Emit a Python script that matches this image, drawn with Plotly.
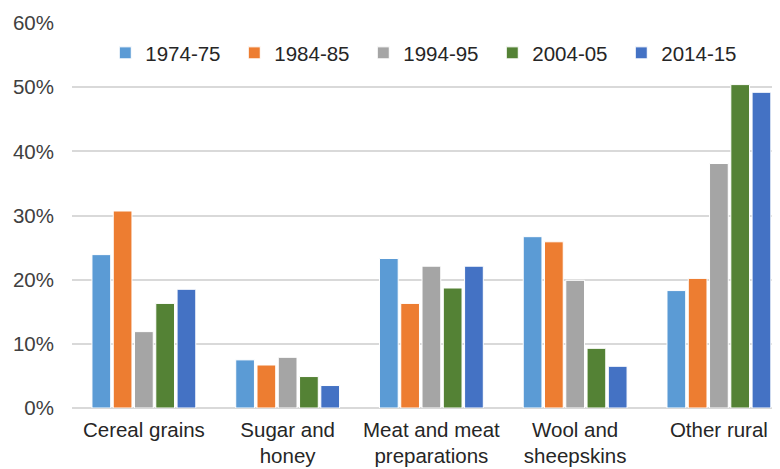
import plotly.graph_objects as go

categories = ["Cereal grains", "Sugar and<br>honey", "Meat and meat<br>preparations", "Wool and<br>sheepskins", "Other rural"]
series_names = ["1974-75", "1984-85", "1994-95", "2004-05", "2014-15"]
v1974 = [0.239, 0.075, 0.233, 0.267, 0.183]
v1984 = [0.307, 0.067, 0.163, 0.259, 0.202]
v1994 = [0.119, 0.079, 0.221, 0.199, 0.381]
v2004 = [0.163, 0.049, 0.187, 0.093, 0.504]
v2014 = [0.185, 0.035, 0.221, 0.065, 0.492]
series_values = [v1974, v1984, v1994, v2004, v2014]
colors = ["#5B9BD5", "#ED7D31", "#A5A5A5", "#548235", "#4472C4"]
y_ticks = [0, 0.1, 0.2, 0.3, 0.4, 0.5, 0.6]

fig = go.Figure()
for name, vals, c in zip(series_names, series_values, colors):
    fig.add_trace(go.Bar(x=categories, y=vals, name=name, marker_color=c,
                         marker_line_color="white", marker_line_width=1))

fig.update_layout(
    width=772, height=461,
    margin=dict(l=64, r=0, t=15, b=61, autoexpand=False),
    paper_bgcolor="white", plot_bgcolor="white",
    font=dict(family="Liberation Sans, Arial, sans-serif", size=20.5, color="#404040"),
    barmode="group", bargap=0.26, bargroupgap=0.12,
    legend=dict(orientation="h", x=0.047, xanchor="left", y=0.922, yanchor="middle",
                font=dict(size=20.5, color="#262626"), bgcolor="rgba(0,0,0,0)",
                itemwidth=30, entrywidth=84, entrywidthmode="pixels", traceorder="normal"),
    showlegend=True,
)
fig.update_yaxes(range=[0, 0.6], tickvals=y_ticks, tickformat=".0%", automargin=False,
                 showgrid=True, gridcolor="#D9D9D9", gridwidth=1.5,
                 zeroline=True, zerolinecolor="#D9D9D9", zerolinewidth=1.5,
                 showline=False, ticklabelstandoff=17, tickfont=dict(size=20.5, color="#404040"))
fig.update_xaxes(range=[-0.5, 4.425], automargin=False, showline=False, showgrid=False,
                 tickfont=dict(size=20.5, color="#262626"), ticklabelstandoff=7)

fig.write_html("out.html")
